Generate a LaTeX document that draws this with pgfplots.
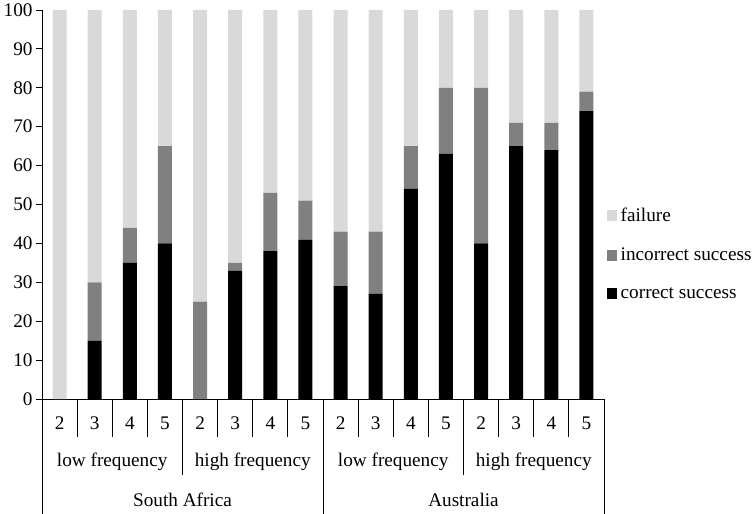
\documentclass[border=0pt]{standalone}
\usepackage{pgfplots}
\usepackage{pgfplotstable}
\pgfplotsset{compat=1.18}
\usepackage{fontspec}
\setmainfont{Liberation Serif}
\definecolor{failc}{HTML}{D9D9D9}
\definecolor{incc}{HTML}{808080}
\pgfplotstableread{
x correct incorrect failure
0 0 0 100
1 15 15 70
2 35 9 56
3 40 25 35
4 0 25 75
5 33 2 65
6 38 15 47
7 41 10 49
8 29 14 57
9 27 16 57
10 54 11 35
11 63 17 20
12 40 40 20
13 65 6 29
14 64 7 29
15 74 5 21
}\data
\begin{document}
\begin{tikzpicture}[font=\fontsize{19.3}{23}\selectfont]
\begin{axis}[
  scale only axis, width=562bp, height=389bp,
  xmin=-0.5, xmax=15.5, ymin=0, ymax=100,
  axis x line=bottom, axis y line=left,
  axis line style={-, line width=0.8bp},
  ybar stacked, bar width=14bp,
  ytick={0,10,...,100}, tick align=outside, major tick length=6bp,
  y tick style={line width=0.8bp, black},
  xtick={0,...,15},
  xticklabels={2,3,4,5,2,3,4,5,2,3,4,5,2,3,4,5},
  x tick style={draw=none},
  xticklabel style={yshift=-8bp},
  /pgf/number format/assume math mode=true,
  clip=false,
  reverse legend,
  legend cell align=left,
  legend style={at={(1.0,0.373)}, anchor=west, xshift=2.5bp, draw=none, fill=none, row sep=21bp, inner sep=0pt,
    /tikz/every odd column/.append style={column sep=1.5bp}},
  legend image code/.code={\fill[#1] (0bp,-5.5bp) rectangle (10.5bp,5.5bp);},
]
\addplot[fill=black, draw=none] table[x=x, y=correct] {\data};
\addlegendentry{correct success}
\addplot[fill=incc, draw=none] table[x=x, y=incorrect] {\data};
\addlegendentry{incorrect success}
\addplot[fill=failc, draw=none] table[x=x, y=failure] {\data};
\addlegendentry{failure}
\coordinate (O) at (axis cs:-0.5,0);
\pgfplotsinvokeforeach{-0.5,0.5,1.5,2.5,3.5,4.5,5.5,6.5,7.5,8.5,9.5,10.5,11.5,12.5,13.5,14.5,15.5}{
  \draw[line width=0.8bp] (axis cs:#1,0) -- ([yshift=-38bp]axis cs:#1,0);
}
\pgfplotsinvokeforeach{-0.5,3.5,7.5,11.5,15.5}{
  \draw[line width=0.8bp] ([yshift=-38bp]axis cs:#1,0) -- ([yshift=-76bp]axis cs:#1,0);
}
\pgfplotsinvokeforeach{-0.5,7.5,15.5}{
  \draw[line width=0.8bp] ([yshift=-76bp]axis cs:#1,0) -- ([yshift=-115bp]axis cs:#1,0);
}
\node at ([yshift=-63bp]axis cs:1.5,0) {low frequency};
\node at ([yshift=-63bp]axis cs:5.5,0) {high frequency};
\node at ([yshift=-63bp]axis cs:9.5,0) {low frequency};
\node at ([yshift=-63bp]axis cs:13.5,0) {high frequency};
\node at ([yshift=-101bp]axis cs:3.5,0) {South Africa};
\node at ([yshift=-101bp]axis cs:11.5,0) {Australia};
\end{axis}
\pgfresetboundingbox
\path (O) ++(-42bp,-115bp) rectangle ++(754bp,514bp);
\end{tikzpicture}
\end{document}
